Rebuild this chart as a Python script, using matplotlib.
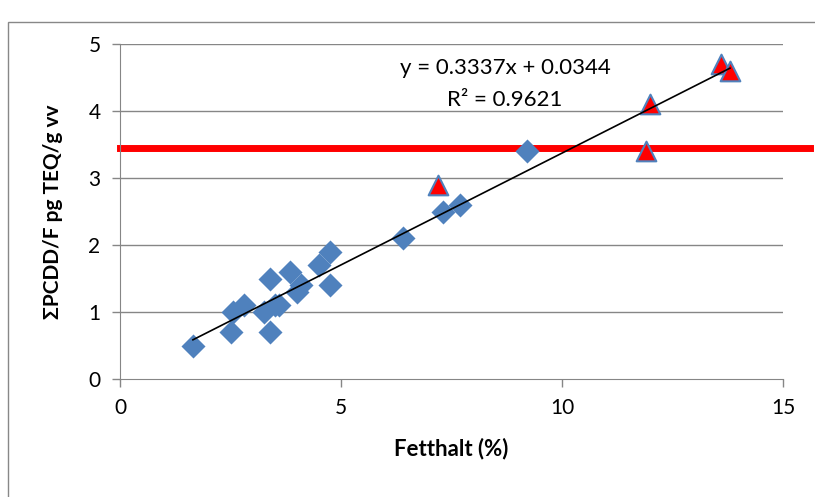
import matplotlib.pyplot as plt
import numpy as np
from matplotlib.patches import Rectangle

# fat content (%) vs PCDD/F (pg TEQ/g ww)
fat_blue = [1.65, 2.5, 2.55, 2.8, 3.25, 3.4, 3.4, 3.5, 3.6, 3.85, 4.0, 4.1, 4.5, 4.75, 4.75, 6.4, 7.3, 7.7, 9.2]
teq_blue = [0.5, 0.7, 1.0, 1.1, 1.0, 0.7, 1.5, 1.1, 1.1, 1.6, 1.3, 1.4, 1.7, 1.4, 1.9, 2.1, 2.5, 2.6, 3.4]
fat_red = [7.2, 11.9, 12.0, 13.6, 13.8]
teq_red = [2.9, 3.4, 4.1, 4.7, 4.6]
limit = 3.45
slope, intercept = 0.3337, 0.0344

plt.rcParams['font.family'] = ['Lato', 'DejaVu Sans']

fig = plt.figure(figsize=(8.15, 4.97), dpi=100)
fig.patches.append(Rectangle((8 / 815, -0.1), 1.2, 1 - 22 / 497 + 0.1,
                             transform=fig.transFigure, fill=False,
                             edgecolor='#888888', linewidth=1))
ax = fig.add_axes([120 / 815, 118 / 497, 663 / 815, 335 / 497])

grid_c = '#868686'
for v in [1, 2, 3, 4, 5]:
    ax.axhline(v, color=grid_c, linewidth=1, zorder=0)

ax.plot([0, 15.6], [limit, limit], color='#FF0000', linewidth=5, clip_on=False, zorder=2)

xs = np.array([min(fat_blue), max(fat_red)])
ax.plot(xs, slope * xs + intercept, color='black', linewidth=1.2, zorder=4)

ax.scatter(fat_blue, teq_blue, marker='D', s=150, color='#4F81BD', zorder=3, linewidths=0)
ax.scatter(fat_red, teq_red, marker='^', s=200, color='#FF0000', edgecolors='#4F81BD',
           linewidths=1.5, zorder=3)

ax.set_xlim(0, 15)
ax.set_ylim(0, 5)
ax.set_xticks([0, 5, 10, 15])
ax.set_yticks([0, 1, 2, 3, 4, 5])
ax.tick_params(axis='both', labelsize=15, color=grid_c, length=6, width=1)
ax.tick_params(axis='x', pad=8)
ax.tick_params(axis='y', pad=8)
for side in ['top', 'right']:
    ax.spines[side].set_visible(False)
for side in ['left', 'bottom']:
    ax.spines[side].set_color(grid_c)

ax.set_xlabel('Fetthalt (%)', fontsize=16, fontweight='bold', labelpad=14)
ax.set_ylabel('ΣPCDD/F pg TEQ/g vv', fontsize=15, fontweight='bold', labelpad=18)

ax.text(8.71, 4.64, 'y = 0.3337x + 0.0344', fontsize=16, ha='center', va='center')
ax.text(8.71, 4.16, 'R² = 0.9621', fontsize=16, ha='center', va='center')

fig.savefig('out.png', dpi=100)
